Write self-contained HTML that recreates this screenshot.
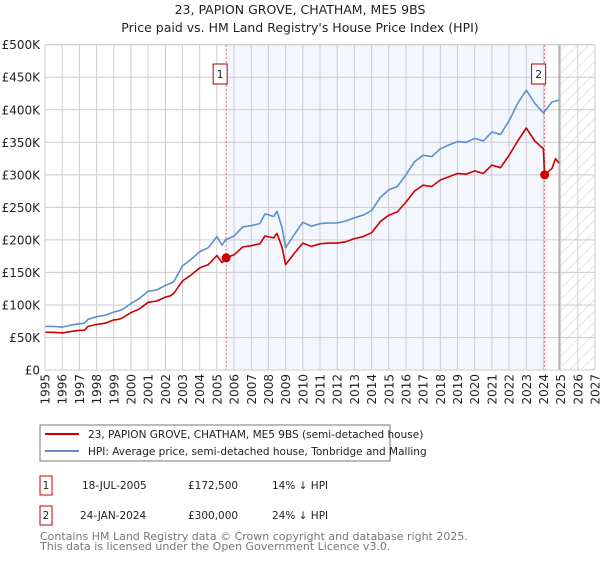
<!DOCTYPE html>
<html><head><meta charset="utf-8"><style>
body{margin:0;background:#fff;font-family:"Liberation Sans","DejaVu Sans",sans-serif;}
svg text{font-family:"DejaVu Sans","Liberation Sans",sans-serif;}
</style></head><body>
<svg id="c" width="600" height="560" xmlns="http://www.w3.org/2000/svg">
<defs><pattern id="hatch" width="8" height="8" patternUnits="userSpaceOnUse" patternTransform="rotate(45)"><line x1="0" y1="0" x2="0" y2="8" stroke="#ccc" stroke-width="1"/></pattern></defs>
<text x="300" y="14" text-anchor="middle" font-size="12.5" fill="#222">23, PAPION GROVE, CHATHAM, ME5 9BS</text>
<text x="300" y="32" text-anchor="middle" font-size="12.5" fill="#222">Price paid vs. HM Land Registry's House Price Index (HPI)</text>
<g id="plot"></g>
<g id="legend">
<rect x="40" y="425" width="350" height="36" fill="#fff" stroke="#777"/>
<line x1="45" y1="434" x2="79" y2="434" stroke="#cc0000" stroke-width="2"/>
<text x="88" y="438" font-size="10.5" fill="#222">23, PAPION GROVE, CHATHAM, ME5 9BS (semi-detached house)</text>
<line x1="45" y1="451" x2="79" y2="451" stroke="#5b8fd0" stroke-width="2"/>
<text x="88" y="455" font-size="10.5" fill="#222">HPI: Average price, semi-detached house, Tonbridge and Malling</text>
</g>
<g font-size="10.5" fill="#222">
<rect x="40" y="476" width="12" height="19" fill="#fff" stroke="#cc0000"/>
<text x="46" y="489" text-anchor="middle">1</text>
<text x="82" y="489">18-JUL-2005</text><text x="188" y="489">£172,500</text><text x="272" y="489">14% ↓ HPI</text>
<rect x="40" y="506" width="12" height="19" fill="#fff" stroke="#cc0000"/>
<text x="46" y="519" text-anchor="middle">2</text>
<text x="80" y="519">24-JAN-2024</text><text x="188" y="519">£300,000</text><text x="272" y="519">24% ↓ HPI</text>
</g>
<text x="40" y="540" font-size="11" fill="#777">Contains HM Land Registry data © Crown copyright and database right 2025.</text>
<text x="40" y="550" font-size="11" fill="#777">This data is licensed under the Open Government Licence v3.0.</text>
</svg>
<script>
const hpiYears=[1995,1995.5,1996,1996.5,1997,1997.3,1997.5,1998,1998.5,1999,1999.3,1999.5,2000,2000.5,2001,2001.5,2002,2002.3,2002.5,2003,2003.5,2004,2004.5,2005,2005.3,2005.5,2006,2006.5,2007,2007.5,2007.8,2008.3,2008.5,2008.8,2009,2009.5,2010,2010.5,2011,2011.5,2012,2012.5,2013,2013.5,2014,2014.5,2015,2015.5,2016,2016.5,2017,2017.5,2018,2018.5,2019,2019.5,2020,2020.5,2021,2021.5,2022,2022.5,2023,2023.5,2024,2024.5,2024.9];
const hpiValues=[67,67,66,69,71,72,78,82,84,89,91,93,102,110,121,123,130,133,136,160,170,182,188,205,192,200,206,220,222,225,240,236,244,218,188,208,227,221,225,226,226,229,234,238,245,265,277,282,300,320,330,328,340,346,351,350,356,352,366,362,383,410,430,410,395,412,415];
const priceYears=[1995,1995.5,1996,1996.5,1997,1997.3,1997.5,1998,1998.5,1999,1999.3,1999.5,2000,2000.5,2001,2001.5,2002,2002.3,2002.5,2003,2003.5,2004,2004.5,2005,2005.3,2005.54,2006,2006.5,2007,2007.5,2007.8,2008.3,2008.5,2008.8,2009,2009.5,2010,2010.5,2011,2011.5,2012,2012.5,2013,2013.5,2014,2014.5,2015,2015.5,2016,2016.5,2017,2017.5,2018,2018.5,2019,2019.5,2020,2020.5,2021,2021.5,2022,2022.5,2023,2023.5,2024,2024.07,2024.5,2024.7,2024.9];
const priceValues=[58,58,57,59,61,61,67,70,72,77,78,80,88,94,104,106,112,114,118,137,146,157,162,176,165,172.5,177,189,191,194,206,203,210,188,162,179,195,190,194,195,195,197,202,205,211,228,238,243,258,275,284,282,292,297,302,301,306,302,315,311,330,352,372,352,340,300,310,325,318];
const sales=[{n:"1",year:2005.54,value:172.5},{n:"2",year:2024.07,value:300}];
const yTicks=[0,50,100,150,200,250,300,350,400,450,500];
const yTickLabels=["£0","£50K","£100K","£150K","£200K","£250K","£300K","£350K","£400K","£450K","£500K"];
const xTicks=[1995,1996,1997,1998,1999,2000,2001,2002,2003,2004,2005,2006,2007,2008,2009,2010,2011,2012,2013,2014,2015,2016,2017,2018,2019,2020,2021,2022,2023,2024,2025,2026,2027];

const L=45,R=595,T=44.7,B=370,x0=1995,x1=2027,ymax=500,dataEnd=2025;
const X=v=>L+(v-x0)/(x1-x0)*(R-L);
const Y=v=>B-v/ymax*(B-T);
const NS="http://www.w3.org/2000/svg";
const g=document.getElementById('plot');
function mk(tag,attrs){const e=document.createElementNS(NS,tag);for(const k in attrs)e.setAttribute(k,attrs[k]);g.appendChild(e);return e;}
let e;
e=mk('rect',{x:X(sales[0].year),y:T,width:X(sales[1].year)-X(sales[0].year),height:B-T,fill:'#f3f6fd'});


e=mk('rect',{x:X(dataEnd),y:T,width:R-X(dataEnd),height:B-T,fill:'url(#hatch)'});


yTicks.forEach((v,i)=>{
  e=mk('line',{x1:L,x2:R,y1:Y(v),y2:Y(v),stroke:'#ccc','stroke-width':1});
  
  
  e=mk('text',{x:L-5,y:Y(v)+4.5,'text-anchor':'end','font-size':12,fill:'#222'});
  e.textContent=yTickLabels[i];
  
  
});
xTicks.forEach(v=>{
  e=mk('line',{x1:X(v),x2:X(v),y1:T,y2:B,stroke:'#ccc','stroke-width':1});
  
  
  e=mk('text',{x:0,y:0,'text-anchor':'end','font-size':12,fill:'#222',transform:`translate(${X(v)+4.5},${B+4}) rotate(-90)`});
  e.textContent=String(v);
  
  
});
e=mk('line',{x1:X(dataEnd)-1.5,x2:X(dataEnd)-1.5,y1:T,y2:B,stroke:'#999','stroke-width':1.2});


sales.forEach(s=>{
  e=mk('line',{x1:X(s.year),x2:X(s.year),y1:T,y2:B,stroke:'#e06070','stroke-width':1,'stroke-dasharray':'2,2'});
  
  
});
function path(xs,ys,color,name){
  const d=xs.map((v,i)=>(i?'L':'M')+X(v).toFixed(1)+','+Y(ys[i]).toFixed(1)).join('');
  e=mk('path',{d:d,fill:'none',stroke:color,'stroke-width':1.6,'stroke-linejoin':'round'});
  
  
}
path(hpiYears,hpiValues,'#5b8fd0','hpi-line');
path(priceYears,priceValues,'#cc0000','price-line');
e=mk('rect',{x:L,y:T,width:R-L,height:B-T,fill:'none',stroke:'#ccc'});


sales.forEach(s=>{
  e=mk('circle',{cx:X(s.year),cy:Y(s.value),r:4.5,fill:'#cc0000'});
  
  
  e=mk('rect',{x:X(s.year)-13,y:64,width:14,height:20,fill:'#fff',stroke:'#aa0000'});
  
  
  e=mk('text',{x:X(s.year)-6,y:78,'text-anchor':'middle','font-size':11,fill:'#222'});
  e.textContent=s.n;
  
  
});
</script>
</body></html>
